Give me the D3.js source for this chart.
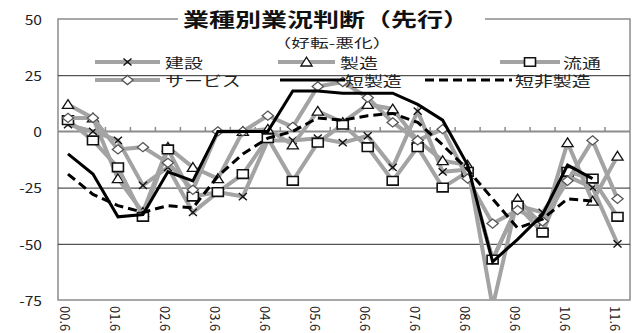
<!DOCTYPE html>
<html>
<head>
<meta charset="utf-8">
<script src="https://cdn.jsdelivr.net/npm/d3@7"></script>
<style>
  html, body { margin: 0; padding: 0; background: #fff; }
  svg { display: block; }
  text { font-family: "Noto Sans CJK JP", "Noto Sans", sans-serif; }
</style>
</head>
<body>
<svg id="chart" width="634" height="333"></svg>
<script>
// Half-year survey points, June and December of each year
const periods = ["00.6","00.12","01.6","01.12","02.6","02.12","03.6","03.12","04.6","04.12",
                 "05.6","05.12","06.6","06.12","07.6","07.12","08.6","08.12","09.6","09.12",
                 "10.6","10.12","11.6"];

// Business condition DI (improving minus worsening), by sector
const construction  = [3, 0, -4, -24, -16, -36, -27, -29, -4, -4, -3, -5, -2, -16, 9, -18, -17, -57, -33, -36, -20, -25, -50];
const manufacturing = [12, 6, -21, -36, -7, -16, -21, 0, 1, -6, 9, 4, 12, 10, -4, -13, -15, -78, -30, -42, -5, -31, -11];
const distribution  = [5, -4, -16, -38, -8, -29, -27, -19, -3, -22, -5, 3, -7, -22, -7, -25, -18, -57, -33, -45, -18, -21, -38];
const services      = [6, 6, -8, -7, -14, -26, 0, 0, 7, 2, 20, 22, 15, 4, -4, 1, -21, -41, -35, -40, -22, -4, -30];
const tankanMfg     = [-10, -19, -38, -37, -18, -22, 0, 0, 0, 18, 18, 17, 17, 17, 12, 5, -15, -58, -48, -37, -15, -21, null];
const tankanNonMfg  = [-19, -28, -33, -36, -33, -34, -20, -10, -3, 0, 6, 5, 7, 8, 4, -6, -17, -30, -43, -39, -30, -31, null];

const seriesNames = ["建設", "製造", "流通", "サービス", "短製造", "短非製造"];
const yTicks = [50, 25, 0, -25, -50, -75];
const gridValues = [25, -25, -50];
const xTickLabels = periods.filter(p => p.endsWith(".6"));

const titleText = "業種別業況判断（先行）";
const subtitleText = "（好転-悪化）";

// ---- layout ----
const plot = { left: 58, right: 630, top: 19, bottom: 300 };
const GRAY = "#a3a3a3";

const svg = d3.select("#chart");

const x = d3.scaleBand().domain(periods).range([55.5, plot.right]).padding(0);
const cx = p => x(p) + x.bandwidth() / 2;
const y = d3.scaleLinear().domain([-75, 50]).range([plot.bottom, plot.top]);

// marker shapes
const markerPaths = {
  cross:    "M-4,-3.6L4,3.6M-4,3.6L4,-3.6",
  triangle: "M0,-4.8L5.6,4L-5.6,4Z",
  square:   "M-5.5,-4.3H5.5V4.3H-5.5Z",
  diamond:  "M0,-4.6L5.6,0L0,4.6L-5.6,0Z"
};

const series = [
  { name: seriesNames[0], values: construction,  color: GRAY, width: 4, marker: "cross" },
  { name: seriesNames[1], values: manufacturing, color: GRAY, width: 4, marker: "triangle" },
  { name: seriesNames[2], values: distribution,  color: GRAY, width: 4, marker: "square" },
  { name: seriesNames[3], values: services,      color: GRAY, width: 4, marker: "diamond" },
  { name: seriesNames[4], values: tankanMfg,     color: "#000", width: 3, marker: null },
  { name: seriesNames[5], values: tankanNonMfg,  color: "#000", width: 3, marker: null, dash: "9,5" }
];

const markerStyle = {
  cross:    { fill: "none", stroke: "#111", sw: 1.4 },
  triangle: { fill: "#fff", stroke: "#111", sw: 1.3 },
  square:   { fill: "#fff", stroke: "#111", sw: 1.6 },
  diamond:  { fill: "#fff", stroke: "#555", sw: 1.3 }
};

function stretchedText(parent, tx, ty, str, o) {
  return parent.append("text")
    .attr("transform", `translate(${tx},${ty}) scale(${o.stretch || 1},1)`)
    .attr("text-anchor", o.anchor || "start")
    .attr("dominant-baseline", "central")
    .style("font-size", o.size + "px")
    .style("font-weight", o.weight || "normal")
    .attr("fill", o.fill || "#222")
    .text(str);
}

// ---- plot frame ----
svg.append("rect")
  .attr("x", plot.left).attr("y", plot.top)
  .attr("width", plot.right - plot.left).attr("height", plot.bottom - plot.top)
  .attr("fill", "#fff").attr("stroke", "#8c8c8c").attr("stroke-width", 1.5);

// horizontal gridlines
svg.append("g")
  .attr("transform", `translate(${plot.left},0)`)
  .call(d3.axisLeft(y).tickValues(gridValues).tickSize(-(plot.right - plot.left)).tickFormat(""))
  .call(g => g.select(".domain").remove())
  .call(g => g.selectAll(".tick line").attr("stroke", "#2a2a2a").attr("stroke-width", 1));

// y tick labels
const yLab = svg.append("g");
yTicks.forEach(v => stretchedText(yLab, 42, y(v), String(v), { size: 13, anchor: "end", stretch: 1.2 }));

// ---- series ----
const clipId = "plotClip";
svg.append("clipPath").attr("id", clipId)
  .append("rect")
  .attr("x", plot.left).attr("y", plot.top)
  .attr("width", plot.right - plot.left).attr("height", plot.bottom - plot.top);

const plotG = svg.append("g").attr("clip-path", `url(#${clipId})`);

// category axis at zero
plotG.append("line")
  .attr("x1", plot.left).attr("x2", plot.right)
  .attr("y1", y(0)).attr("y2", y(0))
  .attr("stroke", "#8c8c8c").attr("stroke-width", 2);
plotG.append("g").selectAll("line")
  .data(periods.slice(1))
  .join("line")
  .attr("x1", d => x(d)).attr("x2", d => x(d))
  .attr("y1", y(0)).attr("y2", y(0) - 4.5)
  .attr("stroke", "#8c8c8c").attr("stroke-width", 1.5);

const lineGen = vals => d3.line()
  .defined(d => vals[d] != null)
  .x(d => cx(periods[d]))
  .y(d => y(vals[d]))(d3.range(periods.length));

series.forEach(s => {
  plotG.append("path")
    .attr("d", lineGen(s.values))
    .attr("fill", "none")
    .attr("stroke", s.color)
    .attr("stroke-width", s.width)
    .attr("stroke-linejoin", "miter")
    .attr("stroke-dasharray", s.dash || null);
  if (s.marker) {
    const st = markerStyle[s.marker];
    plotG.append("g").selectAll("path")
      .data(d3.range(periods.length).filter(i => s.values[i] != null))
      .join("path")
      .attr("transform", i => `translate(${cx(periods[i])},${y(s.values[i])})`)
      .attr("d", markerPaths[s.marker])
      .attr("fill", st.fill).attr("stroke", st.stroke).attr("stroke-width", st.sw);
  }
});

// x tick labels, rotated
svg.append("g").selectAll("text")
  .data(xTickLabels)
  .join("text")
  .attr("transform", d => `translate(${cx(d) - 2},306) rotate(90)`)
  .attr("text-anchor", "start")
  .attr("dominant-baseline", "central")
  .style("font-size", "13px")
  .attr("fill", "#222")
  .text(d => d);

// ---- title ----
svg.append("rect").attr("x", 178).attr("y", 9).attr("width", 307).attr("height", 22).attr("fill", "#fff");
stretchedText(svg, 326, 19.5, titleText, { size: 19, anchor: "middle", weight: "bold", stretch: 1.37, fill: "#111" });
stretchedText(svg, 332, 43, subtitleText, { size: 12.5, anchor: "middle", stretch: 1.5 });

// ---- legend ----
const legendLayout = [
  { x1: 95,  x2: 160, tx: 165, y: 62 },
  { x1: 278, x2: 335, tx: 340, y: 62 },
  { x1: 500, x2: 560, tx: 563, y: 62 },
  { x1: 95,  x2: 160, tx: 165, y: 80 },
  { x1: 280, x2: 345, tx: 345, y: 80 },
  { x1: 425, x2: 512, tx: 515, y: 80 }
];
const legend = svg.append("g");
series.forEach((s, i) => {
  const L = legendLayout[i];
  legend.append("line")
    .attr("x1", L.x1).attr("x2", L.x2).attr("y1", L.y).attr("y2", L.y)
    .attr("stroke", s.color).attr("stroke-width", s.width)
    .attr("stroke-dasharray", s.dash || null);
  if (s.marker) {
    const st = markerStyle[s.marker];
    legend.append("path")
      .attr("transform", `translate(${(L.x1 + L.x2) / 2},${L.y})`)
      .attr("d", markerPaths[s.marker])
      .attr("fill", st.fill).attr("stroke", st.stroke).attr("stroke-width", st.sw);
  }
  stretchedText(legend, L.tx, L.y, s.name, { size: 13.5, stretch: 1.4 });
});
</script>
</body>
</html>
